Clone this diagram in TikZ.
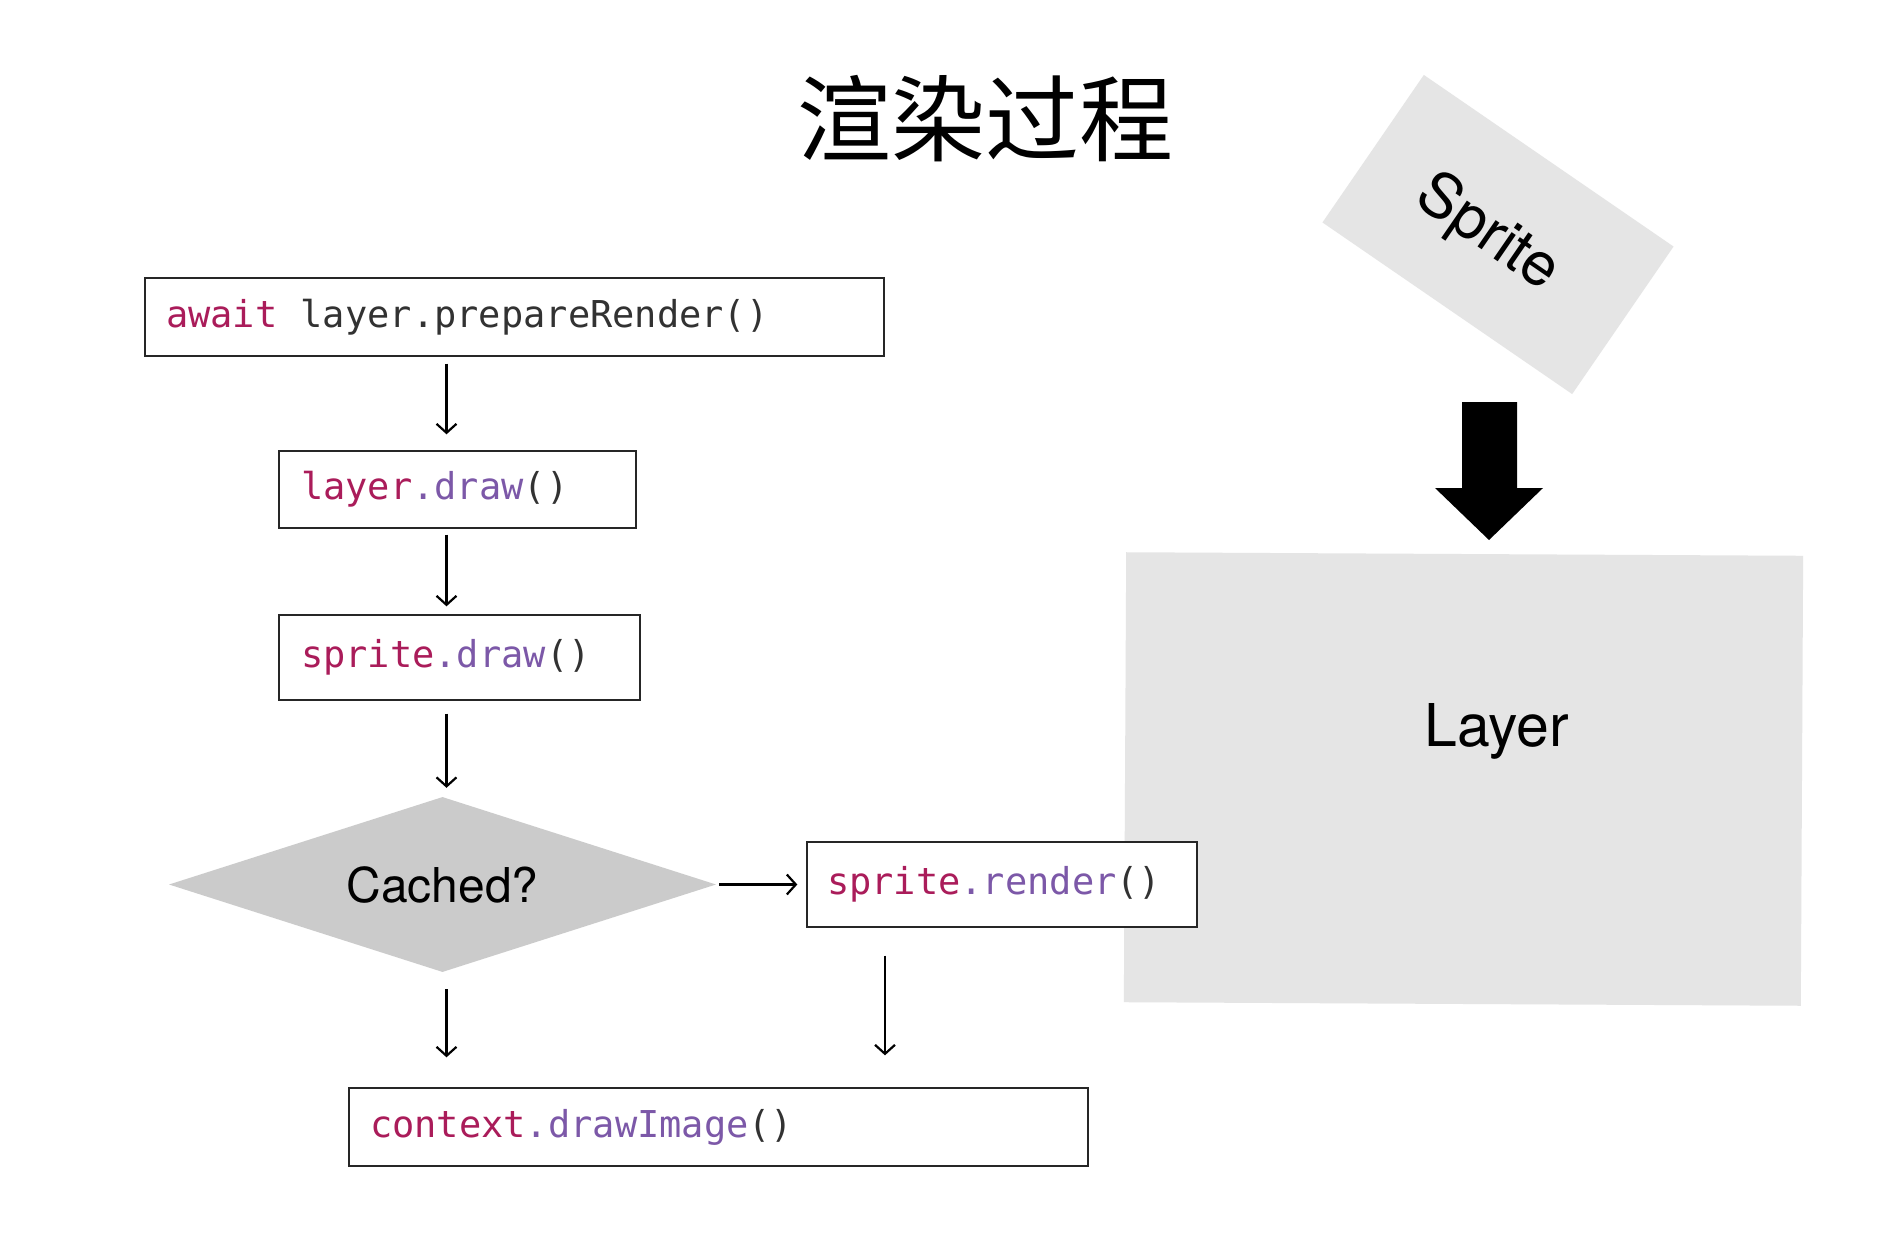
\documentclass[tikz,border=0pt]{standalone}
\usepackage{fontspec}
\setsansfont{TeX Gyre Heros}
\setmonofont{DejaVu Sans Mono}
\newfontfamily\cjk{Noto Sans CJK SC}
\usetikzlibrary{shapes.geometric,arrows.meta}
\definecolor{kwred}{RGB}{170,28,90}
\definecolor{kwpurple}{RGB}{124,88,168}
\definecolor{codegray}{RGB}{50,50,50}
\definecolor{lightbox}{RGB}{229,229,229}
\definecolor{diagray}{RGB}{203,203,203}
\newcommand{\kr}[1]{\textcolor{kwred}{#1}}
\newcommand{\kp}[1]{\textcolor{kwpurple}{#1}}
\begin{document}
\begin{tikzpicture}[x=1pt,y=-1pt,
  codebox/.style={draw=black!85, fill=white, line width=1.4pt, inner ysep=0pt, align=left,
    font=\ttfamily\fontsize{37}{44}\selectfont, text=codegray},
  arr/.style={draw=black, line width=2.2pt, -{Straight Barb[length=9pt,width=20pt,line width=2.2pt]}},
  label/.style={font=\sffamily, text=black, inner sep=0pt}]
\useasboundingbox (0,0) rectangle (1896,1236);
\fill[white] (0,0) rectangle (1896,1236);

% layer / sprite illustration (background)
\node[fill=lightbox, draw=none, minimum width=677pt, minimum height=450pt, inner sep=0pt, rotate=-0.3] (layer) at (1463.5,779) {};
\node[label, font=\sffamily\fontsize{59}{62}\selectfont] (layertxt) at (1497,731) {Layer};
\node[fill=lightbox, draw=none, minimum width=303pt, minimum height=179pt, inner sep=0pt, rotate=-34.5] (sprite) at (1498,234.5) {};
\node[label, font=\sffamily\fontsize{61}{64}\selectfont, rotate=-34.5] (spritetxt) at (1487,234) {Sprite};
\fill[black] (1462,402) -- (1517,402) -- (1517,488) -- (1543,488) -- (1489,540) -- (1435,488) -- (1462,488) -- cycle;

% title
\node[font=\cjk\fontsize{94}{100}\selectfont, inner sep=0pt] (title) at (985,119) {渲染过程};

% flow boxes
\node[codebox, text width=697pt, inner xsep=21pt, minimum height=78pt] (b1) at (514.5,317)
  {\kr{await}\hspace{11pt} layer.prepareRender()};
\node[codebox, text width=313pt, inner xsep=22pt, minimum height=77pt] (b2) at (457.5,489.5)
  {\kr{layer}\kp{.draw}()};
\node[codebox, text width=317pt, inner xsep=22pt, minimum height=85pt] (b3) at (459.5,657.5)
  {\kr{sprite}\kp{.draw}()};
\node[diamond, aspect=3.13, fill=diagray, draw=none, inner sep=0pt, minimum width=547pt, minimum height=175pt,
  font=\sffamily\fontsize{48}{50}\selectfont] (dia) at (442.5,884.5) {Cached?};
\node[codebox, text width=350pt, inner xsep=20pt, minimum height=85pt] (b4) at (1002,884.5)
  {\raisebox{5pt}{\kr{sprite}\kp{.render}()}};
\node[codebox, text width=697pt, inner xsep=21pt, minimum height=78pt] (b5) at (718.5,1127)
  {\kr{context}\kp{.drawImage}()};

% connectors
\coordinate (col) at ([xshift=4pt]dia.north);
\draw[arr, shorten <=7pt, shorten >=16pt] (b1.south -| col) -- (b2.north -| col);
\draw[arr, shorten <=6pt, shorten >=8pt] (b2.south -| col) -- (b3.north -| col);
\draw[arr, shorten <=13pt, shorten >=9pt] (b3.south -| col) -- (dia.north -| col);
\draw[arr, line width=3pt, shorten <=3pt, shorten >=9pt] (dia.east) -- (b4.west);
\draw[arr, shorten <=17pt, shorten >=30pt] (dia.south -| col) -- (b5.north -| col);
\coordinate (rtop) at ([xshift=-117pt]b4.south);
\draw[arr, shorten <=28pt, shorten >=32pt] (rtop) -- (rtop |- b5.north);
\end{tikzpicture}
\end{document}
